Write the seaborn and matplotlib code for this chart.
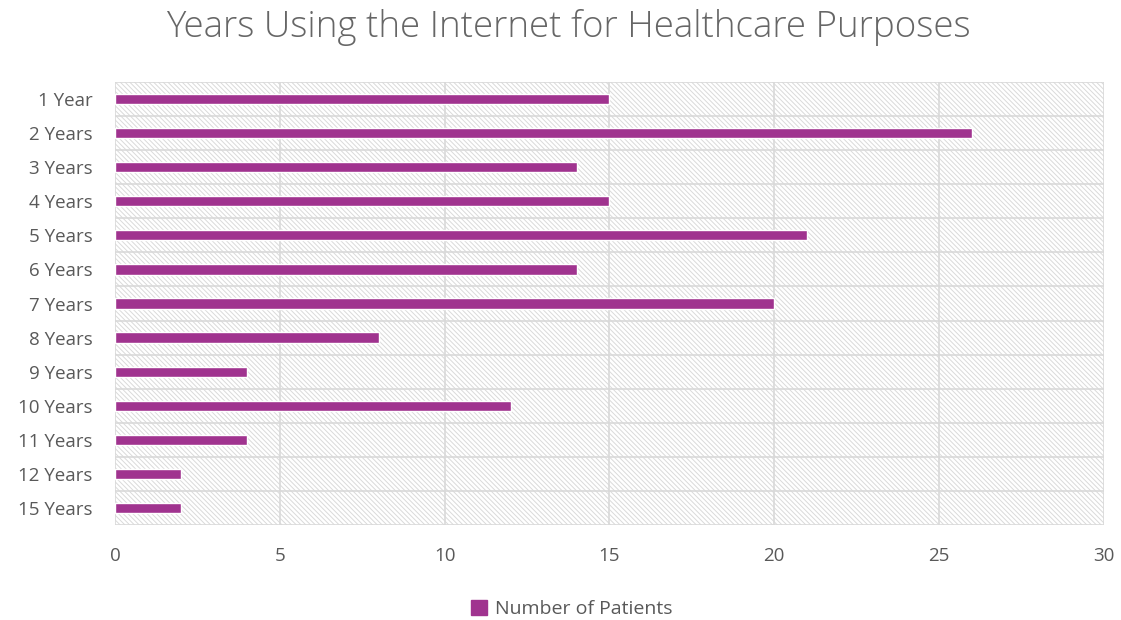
import matplotlib
matplotlib.use("Agg")
import matplotlib.pyplot as plt
import seaborn as sns
import pandas as pd
import numpy as np
from matplotlib.patches import Rectangle, Patch

categories = ["1 Year", "2 Years", "3 Years", "4 Years", "5 Years", "6 Years", "7 Years",
              "8 Years", "9 Years", "10 Years", "11 Years", "12 Years", "15 Years"]
patients = [15, 26, 14, 15, 21, 14, 20, 8, 4, 12, 4, 2, 2]
x_ticks = [0, 5, 10, 15, 20, 25, 30]

sns.set_theme(style="white")
plt.rcParams['font.family'] = ['Open Sans', 'DejaVu Sans']
plt.rcParams['hatch.color'] = '#DADADA'
plt.rcParams['hatch.linewidth'] = 0.7

df = pd.DataFrame({"Years": categories, "Number of Patients": patients})

fig = plt.figure(figsize=(11.21, 6.2), dpi=100)
ax = fig.add_axes([0.1026, 0.1532, 0.8822, 0.7145])

bar_color = "#A0338F"
sns.barplot(data=df, y="Years", x="Number of Patients", orient="h", color=bar_color,
            width=0.3, ax=ax, zorder=3, saturation=1)

# hatched background
bg = Rectangle((0, 0), 1, 1, transform=ax.transAxes, facecolor="white",
               edgecolor="#DADADA", hatch="\\" * 7, linewidth=0, zorder=0)
ax.add_patch(bg)

ax.set_xlim(0, 30)
ax.set_ylim(len(categories) - 0.5, -0.5)
ax.set_xticks(x_ticks)
ax.set_xticklabels([str(t) for t in x_ticks], fontsize=13.5, color="#595959")
ax.tick_params(axis='y', labelsize=13.5, labelcolor="#595959", length=0, pad=16)
ax.tick_params(axis='x', length=0, pad=16)

# grid lines
for t in x_ticks:
    ax.axvline(t, color="#D9D9D9", lw=1.2, zorder=1)
bounds = np.arange(-0.5, len(categories), 1.0)
ax.set_yticks(bounds, minor=True)
ax.tick_params(axis='y', which='minor', length=6, color="#D9D9D9", width=1.2)
for b in bounds:
    ax.axhline(b, color="#D9D9D9", lw=1.2, zorder=1)

for s in ax.spines.values():
    s.set_visible(False)
ax.set_xlabel("")
ax.set_ylabel("")

fig.suptitle("Years Using the Internet for Healthcare Purposes", x=0.507, y=0.985,
             fontsize=26.5, color="#666666", fontweight="light")

handle = Patch(facecolor=bar_color, edgecolor=bar_color)
fig.legend(handles=[handle], labels=["Number of Patients"], loc="center",
           bbox_to_anchor=(0.51, 0.018), frameon=False, fontsize=14,
           handlelength=0.8, handleheight=0.8, handletextpad=0.4, labelcolor="#595959")

fig.savefig("out.png", dpi=100)
